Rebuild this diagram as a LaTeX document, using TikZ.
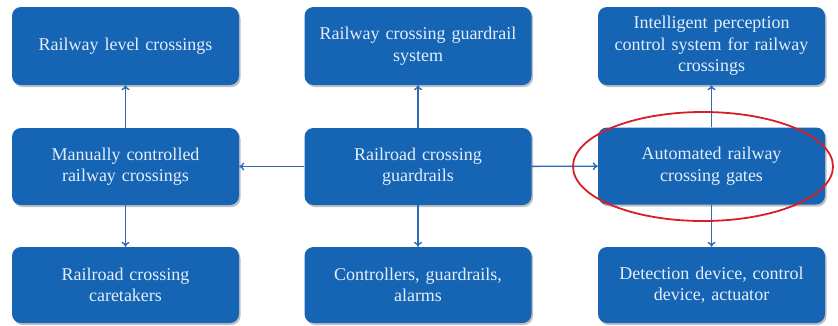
\documentclass[tikz,border=0pt]{standalone}
\usepackage{fontspec}
\setmainfont{Liberation Serif}
\usetikzlibrary{shadows,arrows.meta,shapes.geometric}
\definecolor{boxblue}{RGB}{22,100,180}
\definecolor{txtc}{RGB}{228,238,250}
\definecolor{arrc}{RGB}{45,105,185}
\definecolor{ellred}{RGB}{215,30,40}
\begin{document}
\begin{tikzpicture}[x=1pt,y=-1pt,
  box/.style={draw=none,fill=boxblue,rounded corners=9pt,minimum width=227pt,
    text width=220pt,align=center,text=txtc,font=\fontsize{18}{21.5}\selectfont,
    drop shadow={shadow xshift=1.5pt,shadow yshift=-2pt,opacity=0.35,fill=black!70}},
  conn/.style={draw=arrc,line width=1.4pt,-{To[length=5pt,width=8pt]}}]
\useasboundingbox (0,0) rectangle (838,325);
\node[box,minimum height=78pt] (tl) at (125.5,46) {Railway level crossings};
\node[box,minimum height=78pt] (tm) at (418,46) {Railway crossing guardrail\\system};
\node[box,minimum height=78pt] (tr) at (711.5,46) {Intelligent perception\\control system for railway\\crossings};
\node[box,minimum height=77pt] (ml) at (125.5,166.5) {Manually controlled\\railway crossings};
\node[box,minimum height=77pt] (mm) at (418,166.5) {Railroad crossing\\guardrails};
\node[box,minimum height=77pt] (mr) at (711.5,166) {Automated railway\\crossing gates};
\node[box,minimum height=76pt] (bl) at (125.5,285) {Railroad crossing\\caretakers};
\node[box,minimum height=76pt] (bm) at (418,285) {Controllers, guardrails,\\alarms};
\node[box,minimum height=76pt] (br) at (711.5,285) {Detection device, control\\device, actuator};
\draw[conn] (mm) -- (ml);
\draw[conn] (mm) -- (mr);
\draw[conn] (mm) -- (tm);
\draw[conn] (mm) -- (bm);
\draw[conn] (ml) -- (tl);
\draw[conn] (ml) -- (bl);
\draw[conn] (mr) -- (tr);
\draw[conn] (mr) -- (br);
\node[draw=ellred,line width=1.8pt,ellipse,minimum width=260pt,minimum height=109pt,inner sep=0pt] (ell) at (703,166.5) {};
\end{tikzpicture}
\end{document}
